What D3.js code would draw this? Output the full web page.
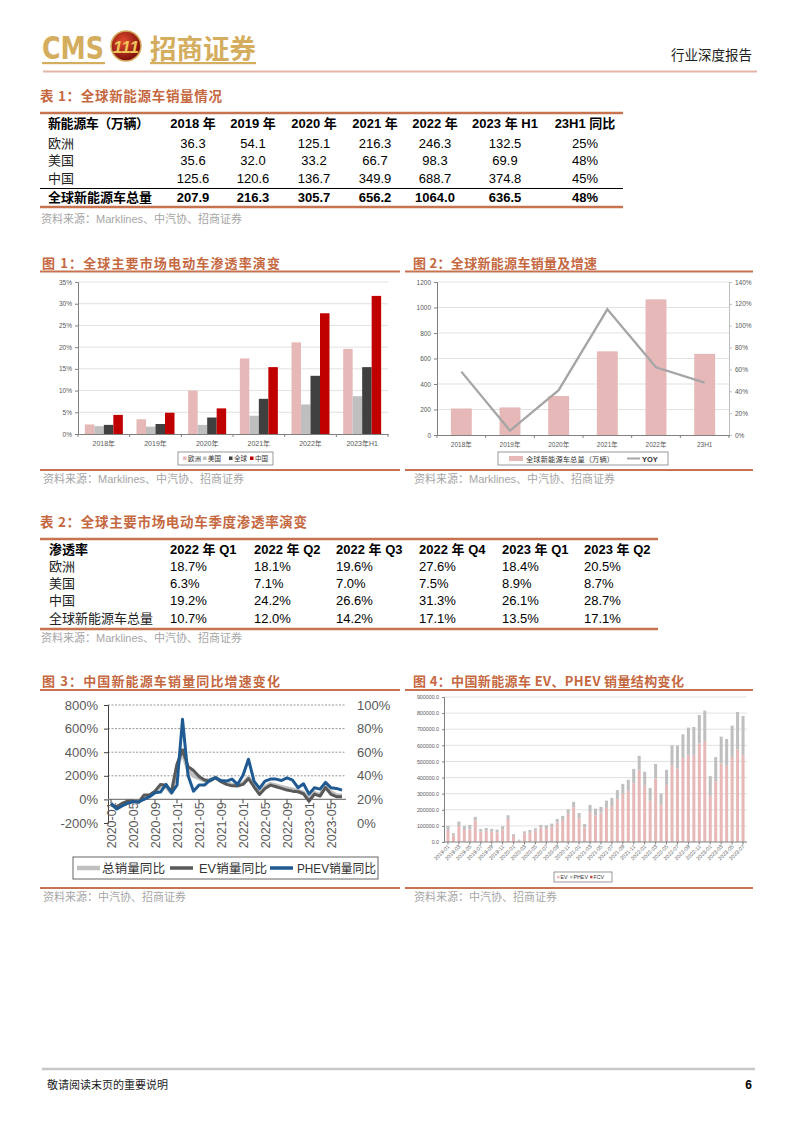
<!DOCTYPE html>
<html><head><meta charset="utf-8">
<script src="https://cdn.jsdelivr.net/npm/d3@7"></script>
<style>body{margin:0;background:#fff}svg{display:block}</style>
</head><body>
<svg id="page" width="794" height="1123"></svg>
<script>
// ---------------- DATA ----------------
// Table 1
const t1Cols = ["2018 年","2019 年","2020 年","2021 年","2022 年","2023 年 H1","23H1 同比"];
const t1Rows = ["欧洲","美国","中国","全球新能源车总量"];
const t1Europe = [36.3,54.1,125.1,216.3,246.3,132.5];
const t1US = [35.6,32.0,33.2,66.7,98.3,69.9];
const t1China = [125.6,120.6,136.7,349.9,688.7,374.8];
const t1Total = [207.9,216.3,305.7,656.2,1064.0,636.5];
const t1YoY = [25,48,45,48];
// Table 2
const t2Cols = ["2022 年 Q1","2022 年 Q2","2022 年 Q3","2022 年 Q4","2023 年 Q1","2023 年 Q2"];
const t2Rows = ["欧洲","美国","中国","全球新能源车总量"];
const t2Europe = [18.7,18.1,19.6,27.6,18.4,20.5];
const t2US = [6.3,7.1,7.0,7.5,8.9,8.7];
const t2China = [19.2,24.2,26.6,31.3,26.1,28.7];
const t2Global = [10.7,12.0,14.2,17.1,13.5,17.1];
// Chart 1
const c1Cats = ["2018年","2019年","2020年","2021年","2022年","2023年H1"];
const c1Series = ["欧洲","美国","全球","中国"];
const c1Europe = [2.2,3.4,10.0,17.4,21.1,19.6];
const c1US = [1.8,1.7,2.1,4.2,6.8,8.7];
const c1Global = [2.1,2.3,3.8,8.1,13.4,15.4];
const c1China = [4.4,4.9,5.9,15.4,27.8,31.8];
const c1Ticks = [0,5,10,15,20,25,30,35];
// Chart 2
const c2Cats = ["2018年","2019年","2020年","2021年","2022年","23H1"];
const c2Sales = [207.9,216.3,305.7,656.2,1064.0,636.5];
const c2YoY = [58,4,41,115,62,48];
const c2LeftTicks = [0,200,400,600,800,1000,1200];
const c2RightTicks = [0,20,40,60,80,100,120,140];
// Chart 3
const c3Months = ["2020-01","2020-02","2020-03","2020-04","2020-05","2020-06","2020-07","2020-08","2020-09","2020-10","2020-11","2020-12",
"2021-01","2021-02","2021-03","2021-04","2021-05","2021-06","2021-07","2021-08","2021-09","2021-10","2021-11","2021-12",
"2022-01","2022-02","2022-03","2022-04","2022-05","2022-06","2022-07","2022-08","2022-09","2022-10","2022-11","2022-12",
"2023-01","2023-02","2023-03","2023-04","2023-05","2023-06","2023-07"];
const c3Labels = ["2020-01","2020-05","2020-09","2021-01","2021-05","2021-09","2022-01","2022-05","2022-09","2023-01","2023-05"];
const c3Total = [-40,-70,-45,-25,-20,-25,20,30,65,110,110,55, 280,400,250,200,180,160,165,185,155,140,125,115, 135,185,115,50,105,130,118,105,95,85,73,55, -5,55,35,113,60,35,31];
const c3EV = [-48,-62,-34,-14,-14,-25,37,37,70,127,121,65, 300,420,280,245,195,165,155,185,150,127,115,115, 127,177,107,42,93,121,107,93,79,70,65,48, -14,45,28,101,42,23,23];
const c3PHEV = [-34,-82,-56,-34,-20,-20,0,23,56,62,127,56, 121,679,205,70,121,121,163,183,160,155,172,127, 205,340,155,93,155,172,172,160,183,163,99,132, 45,99,87,144,99,93,79];
const c3LeftTicks = [-200,0,200,400,600,800];
const c3RightTicks = [0,20,40,60,80,100];
const c3Legend = ["总销量同比","EV销量同比","PHEV销量同比"];
// Chart 4
const c4Months = ["2019-01","2019-02","2019-03","2019-04","2019-05","2019-06","2019-07","2019-08","2019-09","2019-10","2019-11","2019-12",
"2020-01","2020-02","2020-03","2020-04","2020-05","2020-06","2020-07","2020-08","2020-09","2020-10","2020-11","2020-12",
"2021-01","2021-02","2021-03","2021-04","2021-05","2021-06","2021-07","2021-08","2021-09","2021-10","2021-11","2021-12",
"2022-01","2022-02","2022-03","2022-04","2022-05","2022-06","2022-07","2022-08","2022-09","2022-10","2022-11","2022-12",
"2023-01","2023-02","2023-03","2023-04","2023-05","2023-06","2023-07"];
const c4EV = [75000,40000,100000,75000,79000,133000,64000,70000,64000,60000,79000,143000,
37000,10000,54000,58000,70000,89000,87000,95000,120000,137000,174000,216000,
147000,91000,187000,166000,183000,212000,222000,266000,299000,317000,365000,448000,
349000,257000,394000,232000,353000,477000,456000,521000,541000,541000,612000,627000,
286000,378000,488000,473000,527000,573000,539000];
const c4PHEV = [25000,14000,27000,25000,27000,23000,17000,17000,17000,17000,19000,23000,
11000,5000,12000,17000,15000,17000,17000,19000,23000,25000,29000,33000,
33000,21000,43000,41000,35000,45000,52000,56000,62000,69000,89000,87000,
87000,79000,91000,69000,95000,123000,142000,147000,169000,173000,176000,188000,
123000,149000,166000,166000,195000,234000,243000];
const c4Ticks = [0,100000,200000,300000,400000,500000,600000,700000,800000,900000];
const c4Legend = ["EV","PHEV","FCV"];

// ---------------- STYLE ----------------
const svg = d3.select("#page");
const CJK = "'Noto Sans CJK SC', sans-serif";
const SANS = "'Liberation Sans', Arial, 'Noto Sans CJK SC', sans-serif";
const TITLE = "#c5683f", RULE = "#c8734f", GOLD = "#d4ad5e", SRC = "#a6a6a6", AX = "#595959";

function txt(g, x, y, s, o = {}) {
  const t = g.append("text").attr("x", x).attr("y", y).text(s)
    .attr("font-family", o.ff || SANS).attr("font-size", o.fs || 13)
    .attr("fill", o.fill || "#000").attr("text-anchor", o.anchor || "start");
  if (o.fw) t.attr("font-weight", o.fw);
  if (o.len) t.attr("textLength", o.len).attr("lengthAdjust", "spacing");
  return t;
}
function hline(g, x1, x2, y, c, w) {
  g.append("line").attr("x1", x1).attr("x2", x2).attr("y1", y).attr("y2", y).attr("stroke", c).attr("stroke-width", w);
}

// ---------------- HEADER ----------------
const H = svg.append("g");
txt(H, 42, 59, "CMS", {ff:"'Liberation Sans Narrow','DejaVu Sans Condensed','Liberation Sans',sans-serif", fs:32, fw:"bold", fill:GOLD})
  .attr("textLength", 62).attr("lengthAdjust", "spacingAndGlyphs");
const defs = svg.append("defs");
const rg = defs.append("radialGradient").attr("id","emb").attr("cx","40%").attr("cy","35%").attr("r","65%");
rg.append("stop").attr("offset","0%").attr("stop-color","#e04a2e");
rg.append("stop").attr("offset","100%").attr("stop-color","#7d0f0c");
H.append("circle").attr("cx",126).attr("cy",46).attr("r",15).attr("fill","url(#emb)").attr("stroke",GOLD).attr("stroke-width",1.5);
txt(H, 126, 53, "111", {fs:17, fw:"bold", fill:"#f0c55a", anchor:"middle"}).attr("font-style","italic");
txt(H, 150, 59, "招商证券", {ff:CJK, fs:27, fw:"bold", fill:GOLD}).attr("textLength",106).attr("lengthAdjust","spacingAndGlyphs");
H.append("rect").attr("x",42).attr("y",62).attr("width",63).attr("height",2.2).attr("fill",GOLD);
H.append("rect").attr("x",150).attr("y",62).attr("width",106).attr("height",2.2).attr("fill",GOLD);
txt(H, 752, 60, "行业深度报告", {ff:CJK, fs:13.5, fill:"#222", anchor:"end"});
hline(H, 43, 757, 71.5, "#e2b6a8", 2);

// ---------------- TABLE 1 ----------------
const T1 = svg.append("g");
txt(T1, 40, 101, "表 1：全球新能源车销量情况", {ff:CJK, fs:13.5, fw:"bold", fill:TITLE, len:182});
hline(T1, 40, 623, 113, RULE, 2.5);
const t1X = [193,253,314,375,435,505,585];
txt(T1, 48, 128, "新能源车（万辆）", {ff:CJK, fs:13, fw:"bold", len:101});
t1Cols.forEach((c,i) => txt(T1, t1X[i], 128, c, {fs:13, fw:"bold", anchor:"middle"}));
const t1Data = [t1Europe, t1US, t1China, t1Total];
const t1Y = [148,165,183,202];
t1Rows.forEach((r,ri) => {
  const bold = ri === 3;
  txt(T1, 48, t1Y[ri], r, {ff:CJK, fs:13, fw: bold ? "bold" : null, fill: bold ? "#000" : "#222"});
  t1Data[ri].forEach((v,ci) => txt(T1, t1X[ci], t1Y[ri], v.toFixed(1), {fs:13, fw: bold ? "bold" : null, anchor:"middle"}));
  txt(T1, t1X[6], t1Y[ri], t1YoY[ri] + "%", {fs:13, fw: bold ? "bold" : null, anchor:"middle"});
});
hline(T1, 40, 623, 188.5, "#000", 1.2);
hline(T1, 40, 623, 207, RULE, 2.5);
txt(T1, 41, 223, "资料来源：Marklines、中汽协、招商证券", {ff:SANS, fs:11, fill:SRC});

// ---------------- TABLE 2 ----------------
const T2 = svg.append("g");
txt(T2, 40, 527, "表 2：全球主要市场电动车季度渗透率演变", {ff:CJK, fs:13.5, fw:"bold", fill:TITLE, len:267});
hline(T2, 40, 658, 539, RULE, 2.5);
const t2X = [170,254,336,419,502,584];
txt(T2, 49, 554, "渗透率", {ff:CJK, fs:13, fw:"bold"});
t2Cols.forEach((c,i) => txt(T2, t2X[i], 554, c, {fs:13, fw:"bold"}));
const t2Data = [t2Europe, t2US, t2China, t2Global];
const t2Y = [571,588,605,623];
t2Rows.forEach((r,ri) => {
  txt(T2, 49, t2Y[ri], r, {ff:CJK, fs:13, fill:"#222"});
  t2Data[ri].forEach((v,ci) => txt(T2, t2X[ci], t2Y[ri], v.toFixed(1) + "%", {fs:13}));
});
hline(T2, 40, 658, 629, RULE, 2.5);
txt(T2, 41, 642, "资料来源：Marklines、中汽协、招商证券", {fs:11, fill:SRC});

// ---------------- SECTION FRAMES ----------------
function frame(x1, x2, tx, ty, title, len, lineTop, lineBot, src, sy) {
  const g = svg.append("g");
  txt(g, tx, ty, title, {ff:CJK, fs:13, fw:"bold", fill:TITLE, len:len});
  hline(g, x1, x2, lineTop, RULE, 2);
  hline(g, x1, x2, lineBot, RULE, 2);
  txt(g, tx + 1, sy, src, {fs:11, fill:SRC});
  return g;
}
frame(40, 400, 42, 268, "图 1：全球主要市场电动车渗透率演变", 238, 271.5, 470, "资料来源：Marklines、中汽协、招商证券", 483);
frame(405, 753, 413, 268, "图 2：全球新能源车销量及增速", 184, 271.5, 470, "资料来源：Marklines、中汽协、招商证券", 483);
frame(40, 400, 42, 686, "图 3：中国新能源车销量同比增速变化", 238, 690, 888, "资料来源：中汽协、招商证券", 901);
frame(405, 753, 413, 686, "图 4：中国新能源车 EV、PHEV 销量结构变化", 271, 690, 888, "资料来源：中汽协、招商证券", 901);

// ---------------- CHART 1 ----------------
(function(){
  const g = svg.append("g");
  const L = 78, R = 388, T = 282, B = 434;
  const y = d3.scaleLinear().domain([0,35]).range([B,T]);
  const x0 = d3.scaleBand().domain(c1Cats).range([L,R]);
  const gw = 38;
  const x1 = d3.scaleBand().domain(c1Series).range([0,gw]);
  const colors = d3.scaleOrdinal().domain(c1Series).range(["#e6b9b8","#bfbfbf","#404040","#c00000"]);
  const vals = {"欧洲":c1Europe,"美国":c1US,"全球":c1Global,"中国":c1China};
  g.selectAll(".grid").data(c1Ticks.filter(d=>d>0)).join("line")
    .attr("x1",L).attr("x2",R).attr("y1",d=>y(d)).attr("y2",d=>y(d)).attr("stroke","#d9d9d9").attr("stroke-width",0.8);
  c1Cats.forEach((c,ci) => {
    const gx = x0(c) + (x0.bandwidth()-gw)/2;
    c1Series.forEach(s => {
      g.append("rect").attr("x", gx + x1(s)).attr("width", x1.bandwidth())
        .attr("y", y(vals[s][ci])).attr("height", B - y(vals[s][ci])).attr("fill", colors(s));
    });
  });
  const ay = g.append("g").attr("transform",`translate(${L},0)`).call(d3.axisLeft(y).tickValues(c1Ticks).tickFormat(d=>d+"%").tickSize(3));
  ay.select(".domain").attr("stroke","#808080");
  ay.selectAll(".tick line").attr("stroke","#808080");
  ay.selectAll("text").attr("font-family",SANS).attr("font-size",6.5).attr("fill",AX);
  const ax = g.append("g").attr("transform",`translate(0,${B})`).call(d3.axisBottom(x0).tickSize(0).tickPadding(7));
  ax.select(".domain").attr("stroke","#808080");
  ax.selectAll("text").attr("font-family",SANS).attr("font-size",7).attr("fill",AX);
  c1Cats.concat([null]).forEach((c,i) => {
    const xx = i < c1Cats.length ? x0(c) : R;
    g.append("line").attr("x1",xx).attr("x2",xx).attr("y1",B).attr("y2",B+3).attr("stroke","#808080");
  });
  const lg = g.append("g");
  lg.append("rect").attr("x",178).attr("y",452).attr("width",95).attr("height",13).attr("fill","#fff").attr("stroke","#7f7f7f").attr("stroke-width",0.8);
  const lx = [183,203,229,250];
  c1Series.forEach((s,i) => {
    lg.append("rect").attr("x",lx[i]).attr("y",456.5).attr("width",3.5).attr("height",3.5).attr("fill",colors(s));
    txt(lg, lx[i]+5, 461, s, {ff:CJK, fs:6.5, fill:"#333"});
  });
})();

// ---------------- CHART 2 ----------------
(function(){
  const g = svg.append("g");
  const L = 437, R = 729, T = 282, B = 435;
  const y = d3.scaleLinear().domain([0,1200]).range([B,T]);
  const yr = d3.scaleLinear().domain([0,140]).range([B,T]);
  const x = d3.scaleBand().domain(c2Cats).range([L,R]).paddingInner(0.57).paddingOuter(0.285);
  g.selectAll(".grid").data(c2LeftTicks.filter(d=>d>0)).join("line")
    .attr("x1",L).attr("x2",R).attr("y1",d=>y(d)).attr("y2",d=>y(d)).attr("stroke","#d9d9d9").attr("stroke-width",0.8);
  g.selectAll(".bar").data(c2Sales).join("rect")
    .attr("x",(d,i)=>x(c2Cats[i])).attr("width",x.bandwidth())
    .attr("y",d=>y(d)).attr("height",d=>B-y(d)).attr("fill","#e6b9b8");
  const line = d3.line().x((d,i)=>x(c2Cats[i])+x.bandwidth()/2).y(d=>yr(d));
  g.append("path").datum(c2YoY).attr("d",line).attr("fill","none").attr("stroke","#a6a6a6").attr("stroke-width",2.3);
  const ay = g.append("g").attr("transform",`translate(${L},0)`).call(d3.axisLeft(y).tickValues(c2LeftTicks).tickFormat(d3.format("d")).tickSize(3));
  ay.select(".domain").attr("stroke","#808080");
  ay.selectAll(".tick line").attr("stroke","#808080");
  ay.selectAll("text").attr("font-family",SANS).attr("font-size",6.5).attr("fill",AX);
  const ar = g.append("g").attr("transform",`translate(${R},0)`).call(d3.axisRight(yr).tickValues(c2RightTicks).tickFormat(d=>d+"%").tickSize(3));
  ar.select(".domain").attr("stroke","#bfbfbf");
  ar.selectAll(".tick line").attr("stroke","#bfbfbf");
  ar.selectAll("text").attr("font-family",SANS).attr("font-size",6.5).attr("fill",AX);
  const xs = d3.scaleBand().domain(c2Cats).range([L,R]);
  const ax = g.append("g").attr("transform",`translate(0,${B})`).call(d3.axisBottom(xs).tickSize(0).tickPadding(7));
  ax.select(".domain").attr("stroke","#808080");
  ax.selectAll("text").attr("font-family",SANS).attr("font-size",6.5).attr("fill",AX);
  c2Cats.concat([null]).forEach((c,i) => {
    const xx = i < c2Cats.length ? xs(c) : R;
    g.append("line").attr("x1",xx).attr("x2",xx).attr("y1",B).attr("y2",B+3).attr("stroke","#808080");
  });
  const lg = g.append("g");
  lg.append("rect").attr("x",498).attr("y",452).attr("width",170).attr("height",13).attr("fill","#fff").attr("stroke","#7f7f7f").attr("stroke-width",0.8);
  lg.append("rect").attr("x",509).attr("y",456).attr("width",14).attr("height",5).attr("fill","#e6b9b8");
  txt(lg, 526, 461.5, "全球新能源车总量（万辆）", {ff:CJK, fs:7.2, fill:"#333", len:88});
  lg.append("line").attr("x1",627).attr("x2",640).attr("y1",458.5).attr("y2",458.5).attr("stroke","#a6a6a6").attr("stroke-width",2);
  txt(lg, 642, 461.5, "YOY", {fs:7.5, fw:"bold", fill:"#333"});
})();

// ---------------- CHART 3 ----------------
(function(){
  const g = svg.append("g");
  const L = 108, R = 346, T = 705, B = 823;
  const y = d3.scaleLinear().domain([-200,800]).range([B,T]);
  const yr = d3.scaleLinear().domain([0,100]).range([B,T]);
  const x = d3.scalePoint().domain(c3Months).range([111,342]);
  g.selectAll(".grid").data(c3LeftTicks.filter(d=>d>0)).join("line")
    .attr("x1",L).attr("x2",R).attr("y1",d=>y(d)).attr("y2",d=>y(d))
    .attr("stroke","#8c8c8c").attr("stroke-width",0.9).attr("stroke-dasharray","2,1.5");
  const ay = g.append("g").attr("transform",`translate(${L},0)`).call(d3.axisLeft(y).tickValues(c3LeftTicks).tickFormat(d=>d+"%").tickSize(4).tickPadding(6));
  ay.select(".domain").attr("stroke","#404040").attr("stroke-width",1);
  ay.selectAll(".tick line").attr("stroke","#404040");
  ay.selectAll("text").attr("font-family",SANS).attr("font-size",13).attr("fill",AX);
  const ar = g.append("g").attr("transform",`translate(${R},0)`).call(d3.axisRight(yr).tickValues(c3RightTicks).tickFormat(d=>d+"%").tickSize(0).tickPadding(11));
  ar.select(".domain").remove();
  ar.selectAll("text").attr("font-family",SANS).attr("font-size",13).attr("fill",AX);
  hline(g, L, R, y(0), "#7f7f7f", 1.2);
  c3Labels.forEach(m => {
    g.append("line").attr("x1",x(m)).attr("x2",x(m)).attr("y1",y(0)).attr("y2",y(0)+4).attr("stroke","#404040");
    g.append("text").attr("transform",`translate(${x(m)},${y(0)+3}) rotate(-90)`).attr("dy","0.36em")
      .attr("text-anchor","end").attr("font-family",SANS).attr("font-size",12.5).attr("fill",AX).text(m);
  });
  const line = d3.line().x((d,i)=>x(c3Months[i])).y(d=>y(d));
  g.append("path").datum(c3Total).attr("d",line).attr("fill","none").attr("stroke","#bfbfbf").attr("stroke-width",4).attr("stroke-linejoin","round");
  g.append("path").datum(c3EV).attr("d",line).attr("fill","none").attr("stroke","#595959").attr("stroke-width",3).attr("stroke-linejoin","round");
  g.append("path").datum(c3PHEV).attr("d",line).attr("fill","none").attr("stroke","#1f5a92").attr("stroke-width",3).attr("stroke-linejoin","round");
  const lg = g.append("g");
  lg.append("rect").attr("x",73).attr("y",857).attr("width",305).attr("height",22).attr("fill","#fff").attr("stroke","#7f7f7f").attr("stroke-width",1.2);
  const cols = ["#bfbfbf","#595959","#1f5a92"], widths = [4,3,3];
  const lx = [77,170,270], tx = [102,199,297], tl = [63,68,79];
  c3Legend.forEach((s,i) => {
    lg.append("line").attr("x1",lx[i]).attr("x2",lx[i]+23).attr("y1",868).attr("y2",868).attr("stroke",cols[i]).attr("stroke-width",widths[i]+0.5);
    txt(lg, tx[i], 872.5, s, {ff:SANS, fs:12.5, fill:"#333"}).attr("textLength",tl[i]).attr("lengthAdjust","spacingAndGlyphs");
  });
})();

// ---------------- CHART 4 ----------------
(function(){
  const g = svg.append("g");
  const L = 444, R = 747, T = 697, B = 842;
  const y = d3.scaleLinear().domain([0,900000]).range([B,T]);
  const x = d3.scaleBand().domain(c4Months).range([L,R]).padding(0.45);
  g.selectAll(".grid").data(c4Ticks.filter(d=>d>0)).join("line")
    .attr("x1",L).attr("x2",R).attr("y1",d=>y(d)).attr("y2",d=>y(d)).attr("stroke","#d9d9d9").attr("stroke-width",0.8);
  const rows = c4Months.map((m,i)=>({m, EV:c4EV[i], PHEV:c4PHEV[i]}));
  const stack = d3.stack().keys(["EV","PHEV"])(rows);
  const col = {EV:"#e6b9b8", PHEV:"#bfbfbf"};
  stack.forEach(layer => {
    g.selectAll(null).data(layer).join("rect")
      .attr("x",d=>x(d.data.m)).attr("width",x.bandwidth())
      .attr("y",d=>y(d[1])).attr("height",d=>y(d[0])-y(d[1])).attr("fill",col[layer.key]);
  });
  const ay = g.append("g").attr("transform",`translate(${L},0)`).call(d3.axisLeft(y).tickValues(c4Ticks).tickFormat(d3.format(".1f")).tickSize(2).tickPadding(3));
  ay.select(".domain").attr("stroke","#808080");
  ay.selectAll(".tick line").attr("stroke","#808080");
  ay.selectAll("text").attr("font-family",SANS).attr("font-size",5.3).attr("fill",AX);
  hline(g, L, R, B, "#808080", 1);
  const labs = c4Months.filter((m,i)=>i%2===0);
  labs.forEach(m => {
    const xx = x(m) + x.bandwidth()/2;
    g.append("line").attr("x1",xx).attr("x2",xx).attr("y1",B).attr("y2",B+2.5).attr("stroke","#808080");
    g.append("text").attr("transform",`translate(${xx+2},${B+5}) rotate(-45)`).attr("text-anchor","end")
      .attr("font-family",SANS).attr("font-size",5.3).attr("fill",AX).text(m);
  });
  const lg = g.append("g");
  lg.append("rect").attr("x",554).attr("y",872).attr("width",58).attr("height",10).attr("fill","#fff").attr("stroke","#7f7f7f").attr("stroke-width",0.8);
  const lc = ["#e6b9b8","#bfbfbf","#c0504d"], lx = [557,570,590];
  c4Legend.forEach((s,i) => {
    lg.append("rect").attr("x",lx[i]).attr("y",875.8).attr("width",2.5).attr("height",2.5).attr("fill",lc[i]);
    txt(lg, lx[i]+3.5, 879, s, {fs:5.3, fill:"#333"});
  });
})();

// ---------------- FOOTER ----------------
const F = svg.append("g");
hline(F, 42, 755, 1069, "#c8c8c8", 2.5);
txt(F, 47, 1089, "敬请阅读末页的重要说明", {ff:CJK, fs:11, fill:"#222"});
txt(F, 752, 1089, "6", {fs:12, fw:"bold", anchor:"end"});
</script>
</body></html>
